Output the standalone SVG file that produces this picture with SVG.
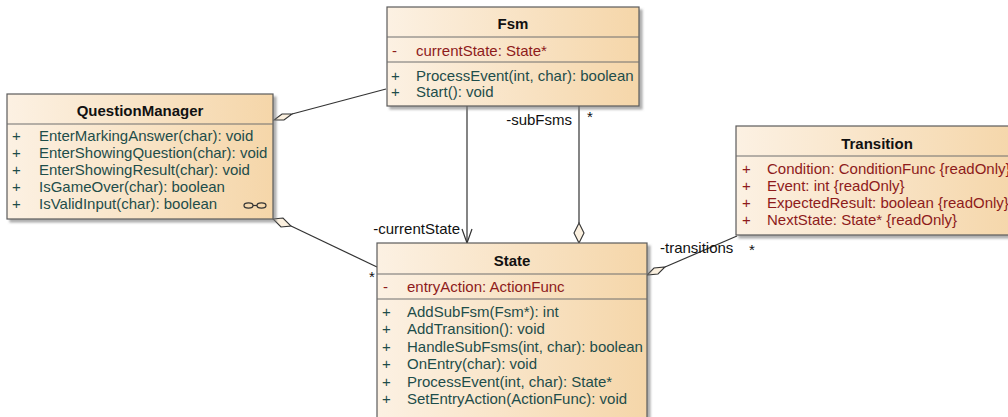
<svg xmlns="http://www.w3.org/2000/svg" width="1008" height="417" viewBox="0 0 1008 417">
  <defs>
    <linearGradient id="boxFill" x1="0" y1="0" x2="1" y2="0">
      <stop offset="0" stop-color="#fcf1e3"/>
      <stop offset="1" stop-color="#f5d6a9"/>
    </linearGradient>
    <filter id="shadow" x="-5%" y="-5%" width="115%" height="120%">
      <feDropShadow dx="3" dy="3" stdDeviation="1.2" flood-color="#7a7a7a" flood-opacity="0.6"/>
    </filter>
  </defs>
  <style>
    .box { fill: url(#boxFill); stroke: #5a5a5a; stroke-width: 1.2; filter: url(#shadow); }
    .sep { stroke: #6f6f6f; stroke-width: 1; }
    text { font-family: "Liberation Sans", Arial, sans-serif; font-size: 15px; }
    .title { font-weight: bold; fill: #111; text-anchor: middle; }
    .attr { fill: #8e1b1b; }
    .op { fill: #1e4d4a; }
    .label { fill: #111; }
    .line { stroke: #333; stroke-width: 1.2; fill: none; }
    .diamond { fill: #fbf0df; stroke: #333; stroke-width: 1.1; }
  </style>

  <rect width="1008" height="417" fill="#ffffff"/>

  <!-- connectors -->
  <g id="connectors">
    <!-- QuestionManager aggregates Fsm -->
    <line class="line" x1="292" y1="114" x2="386" y2="89"/>
    <polygon class="diamond" points="274,120 282,114 292,114 284,120"/>
    <!-- QuestionManager aggregates State -->
    <line class="line" x1="291" y1="226" x2="377" y2="267"/>
    <polygon class="diamond" points="273,219 283,218 291,226 281,227"/>
    <text class="label" x="369" y="282">*</text>
    <!-- Fsm navigates to State: currentState -->
    <line class="line" x1="467" y1="106" x2="467" y2="243"/>
    <polyline class="line" points="462,229 467,243 472,229"/>
    <text class="label" x="460" y="234" text-anchor="end">-currentState</text>
    <!-- State aggregates Fsm: subFsms -->
    <line class="line" x1="579" y1="106" x2="579" y2="223"/>
    <polygon class="diamond" points="579,223 584,233 579,243 574,233"/>
    <text class="label" x="572" y="125" text-anchor="end">-subFsms</text>
    <text class="label" x="587" y="122">*</text>
    <!-- State aggregates Transition: transitions -->
    <line class="line" x1="665" y1="267" x2="737" y2="236"/>
    <polygon class="diamond" points="647,275 654,268 665,267 658,274"/>
    <text class="label" x="660" y="253">-transitions</text>
    <text class="label" x="749" y="255">*</text>
  </g>

  <!-- Fsm -->
  <g id="fsm">
    <rect class="box" x="387" y="7" width="252" height="99"/>
    <line class="sep" x1="387" y1="37" x2="639" y2="37"/>
    <line class="sep" x1="387" y1="62" x2="639" y2="62"/>
    <text class="title" x="513" y="29">Fsm</text>
    <text class="attr" x="392" y="56">-</text>
    <text class="attr" x="416" y="56">currentState: State*</text>
    <text class="op" x="391" y="81">+</text>
    <text class="op" x="416" y="81">ProcessEvent(int, char): boolean</text>
    <text class="op" x="391" y="97">+</text>
    <text class="op" x="416" y="97">Start(): void</text>
  </g>

  <!-- QuestionManager -->
  <g id="question-manager">
    <rect class="box" x="7" y="94" width="266" height="125"/>
    <line class="sep" x1="7" y1="124" x2="273" y2="124"/>
    <text class="title" x="140" y="116">QuestionManager</text>
    <text class="op" x="12" y="141">+</text>
    <text class="op" x="39" y="141">EnterMarkingAnswer(char): void</text>
    <text class="op" x="12" y="158">+</text>
    <text class="op" x="39" y="158">EnterShowingQuestion(char): void</text>
    <text class="op" x="12" y="175">+</text>
    <text class="op" x="39" y="175">EnterShowingResult(char): void</text>
    <text class="op" x="12" y="192">+</text>
    <text class="op" x="39" y="192">IsGameOver(char): boolean</text>
    <text class="op" x="12" y="209">+</text>
    <text class="op" x="39" y="209">IsValidInput(char): boolean</text>
    <!-- hidden-compartment link icon -->
    <g fill="none" stroke="#333" stroke-width="1.2">
      <ellipse cx="248.5" cy="205.5" rx="4.5" ry="2.6"/>
      <ellipse cx="261.5" cy="205.5" rx="4.5" ry="2.6"/>
      <line x1="253" y1="205.5" x2="257" y2="205.5"/>
    </g>
  </g>

  <!-- Transition -->
  <g id="transition">
    <rect class="box" x="736" y="126" width="284" height="109"/>
    <line class="sep" x1="736" y1="156" x2="1020" y2="156"/>
    <text class="title" x="877" y="149">Transition</text>
    <text class="attr" x="742" y="174">+</text>
    <text class="attr" x="767" y="174">Condition: ConditionFunc {readOnly}</text>
    <text class="attr" x="742" y="191">+</text>
    <text class="attr" x="767" y="191">Event: int {readOnly}</text>
    <text class="attr" x="742" y="208">+</text>
    <text class="attr" x="767" y="208">ExpectedResult: boolean {readOnly}</text>
    <text class="attr" x="742" y="225">+</text>
    <text class="attr" x="767" y="225">NextState: State* {readOnly}</text>
  </g>

  <!-- State -->
  <g id="state">
    <rect class="box" x="377" y="243" width="270" height="190"/>
    <line class="sep" x1="377" y1="274" x2="647" y2="274"/>
    <line class="sep" x1="377" y1="299" x2="647" y2="299"/>
    <text class="title" x="512" y="266">State</text>
    <text class="attr" x="383" y="292">-</text>
    <text class="attr" x="407" y="292">entryAction: ActionFunc</text>
    <text class="op" x="382" y="317">+</text>
    <text class="op" x="407" y="317">AddSubFsm(Fsm*): int</text>
    <text class="op" x="382" y="334">+</text>
    <text class="op" x="407" y="334">AddTransition(): void</text>
    <text class="op" x="382" y="352">+</text>
    <text class="op" x="407" y="352">HandleSubFsms(int, char): boolean</text>
    <text class="op" x="382" y="369">+</text>
    <text class="op" x="407" y="369">OnEntry(char): void</text>
    <text class="op" x="382" y="387">+</text>
    <text class="op" x="407" y="387">ProcessEvent(int, char): State*</text>
    <text class="op" x="382" y="404">+</text>
    <text class="op" x="407" y="404">SetEntryAction(ActionFunc): void</text>
  </g>
</svg>
